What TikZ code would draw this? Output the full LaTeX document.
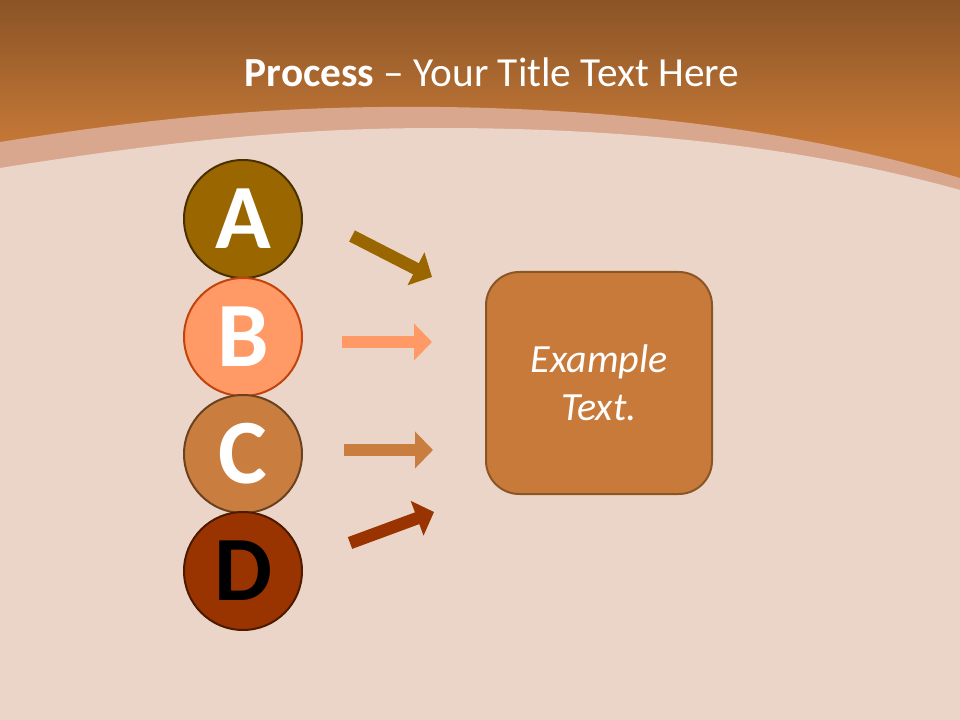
\documentclass[tikz,border=0pt]{standalone}
\usepackage{fontspec}
\setmainfont{Carlito}
\usetikzlibrary{arrows.meta}
\definecolor{bgc}{HTML}{EBD5C9}
\definecolor{hdtop}{HTML}{8A5426}
\definecolor{hdbot}{HTML}{C87A38}
\definecolor{bandc}{HTML}{D9A68E}
\definecolor{cAf}{HTML}{996600}
\definecolor{cAb}{HTML}{4A3000}
\definecolor{cBf}{HTML}{FF9966}
\definecolor{cBb}{HTML}{C2440C}
\definecolor{cCf}{HTML}{C97E40}
\definecolor{cCb}{HTML}{6B4220}
\definecolor{cDf}{HTML}{993300}
\definecolor{cDb}{HTML}{4D1A00}
\definecolor{boxf}{HTML}{C87A3A}
\definecolor{boxb}{HTML}{8B5626}
\tikzset{
  letter/.style={circle, inner sep=0pt, minimum size=88.5pt, line width=1.5pt,
    font=\fontsize{69}{69}\selectfont\bfseries, text=white},
  arr/.style={line width=9.4pt, -{Triangle[length=13.5pt,width=27pt]}},
}
\begin{document}
\begin{tikzpicture}[x=0.75pt,y=-0.75pt]
\useasboundingbox (0,0) rectangle (960,720);
\fill[bgc] (0,0) rectangle (960,720);
% header
\shade[top color=hdtop, bottom color=hdbot] (0,0) rectangle (960,150);
\fill[hdbot] (0,149) rectangle (960,200);
% band
\fill[bandc] (0,142) .. controls (200,110) and (320,106) .. (440,107)
  .. controls (620,109) and (800,130) .. (960,178) -- (960,720) -- (0,720) -- cycle;
% content background
\fill[bgc] (0,168) .. controls (200,136) and (320,128) .. (440,128)
  .. controls (620,128) and (800,145) .. (960,190) -- (960,720) -- (0,720) -- cycle;
% title
\node[anchor=base, text=white, font=\fontsize{31}{37}\selectfont, inner sep=0pt] (title) at (492,87)
  {\textbf{Process} – Your Title Text Here};
% circles
\node[letter, fill=cAf, draw=cAb] (A) at (243,219) {A};
\node[letter, fill=cBf, draw=cBb] (B) at (243,337) {B};
\node[letter, fill=cCf, draw=cCb] (C) at (243,454) {C};
\node[letter, fill=cDf, draw=cDb, text=black] (D) at (243,571) {D};
% box
\node[draw=boxb, fill=boxf, line width=1.5pt, rounded corners=25pt,
  minimum width=169.5pt, minimum height=166.5pt, align=center, text=white,
  font=\fontsize{30}{36}\selectfont\itshape] (box) at (599,383) {Example\\Text.};
% arrows
\coordinate (a1) at (352,236); \coordinate (a2) at (432,277);
\coordinate (b1) at (342,342); \coordinate (b2) at (432,342);
\coordinate (c1) at (344,450); \coordinate (c2) at (433,450);
\coordinate (d1) at (350,543); \coordinate (d2) at (434,512);
\draw[arr, cAf] (a1) -- (a2);
\draw[arr, cBf] (b1) -- (b2);
\draw[arr, cCf] (c1) -- (c2);
\draw[arr, cDf] (d1) -- (d2);
\end{tikzpicture}
\end{document}
